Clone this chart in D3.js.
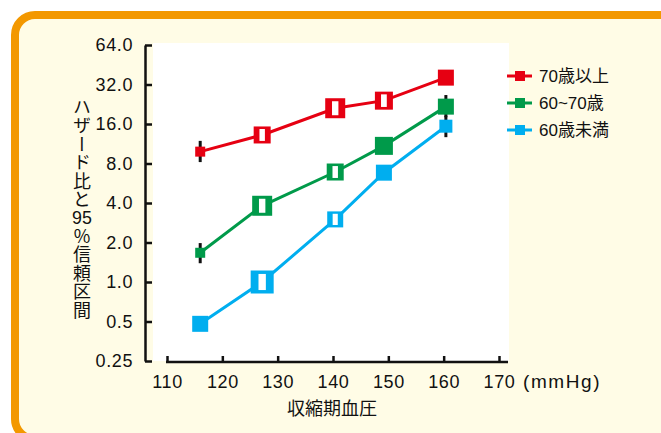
<!DOCTYPE html>
<html>
<head>
<meta charset="utf-8">
<script src="https://cdn.jsdelivr.net/npm/d3@7"></script>
<style>
  html, body { margin: 0; padding: 0; background: #ffffff; }
  svg { display: block; }
  text { font-family: "Liberation Sans", Arial, "Noto Sans CJK JP", sans-serif; fill: #111; }
  .jp { font-family: "Noto Sans CJK JP", sans-serif; }
  .vtitle {
    writing-mode: vertical-rl;
    text-orientation: upright;
    font-family: "Noto Sans CJK JP", sans-serif;
    font-size: 18px;
    line-height: 24px;
    letter-spacing: 0.5px;
    color: #111;
    margin: 0;
  }
  .vtitle .tcy {
    text-combine-upright: all;
    font-family: "Liberation Sans", Arial, sans-serif;
  }
</style>
</head>
<body>
<svg id="chart" width="661" height="433"></svg>
<script>
// Systolic blood pressure categories (mmHg) and hazard ratios by age group
const sbp = [116, 127.2, 140.4, 149.2, 160.4];

const seriesNames = ["70歳以上", "60~70歳", "60歳未満"];

const hrOver70   = [9.85, 13.2, 21.1, 24.1, 36.1];
const hr60to70   = [1.67, 3.81, 6.89, 10.9, 21.7];
const hrUnder60  = [0.48, 1.0, 3.0, 6.81, 15.4];

// 95% CI bounds (null where the interval sits inside the marker)
const ciLowOver70  = [8.2, null, null, null, null];
const ciHighOver70 = [11.9, null, null, null, null];
const ciLow60to70  = [1.39, null, null, null, 18.0];
const ciHigh60to70 = [1.98, null, null, null, 26.6];
const ciLowUnder60  = [null, null, null, null, 12.7];
const ciHighUnder60 = [null, null, null, null, 18.5];

// Marker side length (px) and open/closed marker style per point
const markerOver70  = [10, 17, 20, 18, 16];
const markerMid     = [10, 20, 17, 18, 16];
const markerUnder60 = [16, 23, 16, 16, 13];
const openOver70  = [false, true, true, true, false];
const openMid     = [false, true, true, false, false];
const openUnder60 = [false, true, true, false, false];

const yTicks = [0.25, 0.5, 1, 2, 4, 8, 16, 32, 64];
const yTickLabels = ["0.25", "0.5", "1.0", "2.0", "4.0", "8.0", "16.0", "32.0", "64.0"];
const xTicks = [110, 120, 130, 140, 150, 160, 170];

const yTitleParts = ["ハザード比と", "95", "%信頼区間"];

const colors = ["#e60012", "#009a4a", "#00aeef"];

const series = [
  { name: seriesNames[0], hr: hrOver70, lo: ciLowOver70, hi: ciHighOver70, size: markerOver70, open: openOver70, color: colors[0] },
  { name: seriesNames[1], hr: hr60to70, lo: ciLow60to70, hi: ciHigh60to70, size: markerMid, open: openMid, color: colors[1] },
  { name: seriesNames[2], hr: hrUnder60, lo: ciLowUnder60, hi: ciHighUnder60, size: markerUnder60, open: openUnder60, color: colors[2] }
];

const svg = d3.select("#chart");

// Rounded panel
svg.append("rect")
  .attr("x", 15).attr("y", 15)
  .attr("width", 720).attr("height", 424)
  .attr("rx", 20).attr("ry", 20)
  .attr("fill", "#fffce6")
  .attr("stroke", "#f39800")
  .attr("stroke-width", 8);

// Plot background
svg.append("rect")
  .attr("x", 153).attr("y", 43)
  .attr("width", 356).attr("height", 318)
  .attr("fill", "#ffffff");

const x = d3.scaleLinear().domain([110, 170]).range([167, 499]);
const y = d3.scaleLog().base(2).domain([0.25, 64]).range([361, 45]);

// Y axis
const yAxisG = svg.append("g").attr("transform", "translate(145,0)")
  .call(d3.axisLeft(y).tickValues(yTicks)
    .tickFormat((d, i) => yTickLabels[i])
    .tickSizeInner(-7).tickSizeOuter(0).tickPadding(12));
yAxisG.select(".domain").attr("stroke", "#111").attr("stroke-width", 2.5);
yAxisG.selectAll(".tick line").attr("stroke", "#111").attr("stroke-width", 2.5);
yAxisG.selectAll(".tick text")
  .attr("font-size", 18).attr("letter-spacing", 0.6).attr("fill", "#111")
  .style("font-family", "'Liberation Sans', Arial, sans-serif");

// X axis
const xAxisG = svg.append("g").attr("transform", "translate(0,362)")
  .call(d3.axisBottom(x).tickValues(xTicks)
    .tickSizeInner(-6).tickSizeOuter(0).tickPadding(13));
xAxisG.select(".domain").remove();
xAxisG.append("line")
  .attr("x1", x(110) - 1).attr("x2", x(170) + 9)
  .attr("stroke", "#111").attr("stroke-width", 2.5);
xAxisG.selectAll(".tick line").attr("stroke", "#111").attr("stroke-width", 2.5);
xAxisG.selectAll(".tick text")
  .attr("font-size", 18).attr("letter-spacing", 0.6).attr("fill", "#111")
  .style("font-family", "'Liberation Sans', Arial, sans-serif");

// Unit label
svg.append("text")
  .attr("x", 523).attr("y", 381).attr("dy", "0.35em")
  .attr("font-size", 19).attr("letter-spacing", 1.6)
  .text("(mmHg)");

// X axis title
svg.append("text").attr("class", "jp")
  .attr("x", 332).attr("y", 409).attr("dy", "0.35em")
  .attr("text-anchor", "middle").attr("font-size", 18)
  .text("収縮期血圧");

// Y axis title, set vertically (tate-chu-yoko for the number)
const fo = svg.append("foreignObject")
  .attr("x", 70).attr("y", 98)
  .attr("width", 24).attr("height", 250);
const vdiv = fo.append("xhtml:div").attr("class", "vtitle");
vdiv.append("xhtml:span").text(yTitleParts[0]);
vdiv.append("xhtml:span").attr("class", "tcy").text(yTitleParts[1]);
vdiv.append("xhtml:span").text(yTitleParts[2]);

const line = d3.line().x(d => x(d[0])).y(d => y(d[1]));

// Connecting lines
series.forEach(s => {
  svg.append("path")
    .datum(sbp.map((v, i) => [v, s.hr[i]]))
    .attr("fill", "none")
    .attr("stroke", s.color)
    .attr("stroke-width", 3)
    .attr("d", line);
});

// Confidence intervals
series.forEach(s => {
  sbp.forEach((v, i) => {
    if (s.lo[i] == null) return;
    svg.append("line")
      .attr("x1", x(v)).attr("x2", x(v))
      .attr("y1", y(s.lo[i])).attr("y2", y(s.hi[i]))
      .attr("stroke", "#111").attr("stroke-width", 3);
  });
});

// Markers
series.forEach(s => {
  sbp.forEach((v, i) => {
    const cx = x(v), cy = y(s.hr[i]), sz = s.size[i];
    svg.append("rect")
      .attr("x", cx - sz / 2).attr("y", cy - sz / 2)
      .attr("width", sz).attr("height", sz)
      .attr("fill", s.color);
    if (s.open[i]) {
      const w = sz * 0.32, h = sz * 0.7;
      svg.append("rect")
        .attr("x", cx - w / 2).attr("y", cy - h / 2)
        .attr("width", w).attr("height", h)
        .attr("fill", "#ffffff");
    }
  });
});

// Legend
const legendY = [76, 103, 130];
series.forEach((s, i) => {
  const g = svg.append("g").attr("transform", `translate(0,${legendY[i]})`);
  g.append("line").attr("x1", 507).attr("x2", 532)
    .attr("stroke", s.color).attr("stroke-width", 3);
  g.append("rect").attr("x", 515).attr("y", -5)
    .attr("width", 10).attr("height", 10).attr("fill", s.color);
  g.append("text").attr("x", 539).attr("dy", "0.36em")
    .attr("font-size", 17).text(s.name);
});
</script>
</body>
</html>
